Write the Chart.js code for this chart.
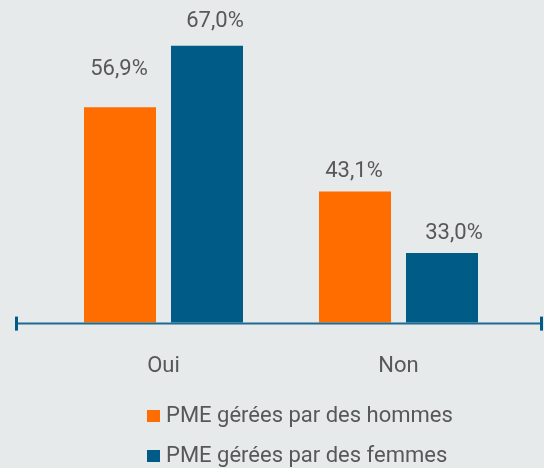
<!DOCTYPE html>
<html>
<head>
<meta charset="utf-8">
<script src="https://cdn.jsdelivr.net/npm/chart.js@4/dist/chart.umd.min.js"></script>
<style>
  html, body { margin: 0; padding: 0; background: #e6eaeb; }
  #wrap { position: relative; width: 544px; height: 468px; }
  #chart { position: absolute; left: 0; top: 0; }
  .leg { position: absolute; left: 0; width: 544px; height: 26px; line-height: 26px;
         font: 22px Roboto, 'Noto Sans', sans-serif; color: #585858; white-space: nowrap; }
  .leg .sw { position: absolute; left: 147px; top: 8px; width: 13px; height: 12px; }
  .leg .tx { position: absolute; left: 166px; top: 0; }
</style>
</head>
<body>
<div id="wrap">
  <canvas id="chart" width="544" height="411"></canvas>
  <div id="legend"></div>
</div>
<script>
// Data
var categories = ["Oui", "Non"];
var hommes = [56.9, 43.1];
var femmes = [67.0, 33.0];
var seriesNames = ["PME gérées par des hommes", "PME gérées par des femmes"];
var seriesColors = ["#ff6d00", "#005b86"];

var textColor = "#585858";
var fontFamily = "Roboto, 'Noto Sans', sans-serif";

// horizontal axis line with end ticks, wider than the plot area
var axisLine = {
    id: "axisLine",
    afterDatasetsDraw: function (chart) {
        var ctx = chart.ctx, a = chart.chartArea;
        var y = a.bottom + 1;
        ctx.save();
        ctx.strokeStyle = "#1d6a93";
        ctx.lineWidth = 2;
        ctx.beginPath();
        ctx.moveTo(a.left - 30, y);
        ctx.lineTo(a.right + 26, y);
        ctx.stroke();
        ctx.fillStyle = "#005b86";
        ctx.fillRect(a.left - 31, y - 7, 3, 14);
        ctx.fillRect(a.right + 24, y - 7, 3, 14);
        ctx.restore();
    }
};

// value labels above bars
var labelNudge = [[[-1, -38], [8, -24]], [[-1, -20], [12, -20]]];
var valueLabels = {
    id: "valueLabels",
    afterDatasetsDraw: function (chart) {
        var ctx = chart.ctx;
        ctx.save();
        ctx.font = "22px " + fontFamily;
        ctx.fillStyle = textColor;
        ctx.textAlign = "center";
        ctx.textBaseline = "middle";
        chart.data.datasets.forEach(function (ds, i) {
            chart.getDatasetMeta(i).data.forEach(function (bar, j) {
                var n = labelNudge[j][i];
                var txt = ds.data[j].toFixed(1).replace(".", ",") + "%";
                ctx.fillText(txt, bar.x + n[0], bar.y + n[1]);
            });
        });
        ctx.restore();
    }
};

var chart = new Chart(document.getElementById("chart"), {
    type: "bar",
    data: {
        labels: categories,
        datasets: [{
            label: seriesNames[0],
            data: hommes,
            backgroundColor: seriesColors[0]
        }, {
            label: seriesNames[1],
            data: femmes,
            backgroundColor: seriesColors[1]
        }]
    },
    options: {
        responsive: false,
        animation: false,
        barPercentage: 0.8276,
        categoryPercentage: 0.7404,
        layout: { padding: { left: 46, right: 28, top: 0, bottom: 0 } },
        scales: {
            x: {
                grid: { display: false, drawTicks: false },
                border: { display: false },
                ticks: { color: textColor, font: { family: fontFamily, size: 22 }, padding: 31 }
            },
            y: {
                display: false,
                min: 21.6,
                max: 74.5
            }
        },
        plugins: {
            legend: { display: false },
            tooltip: { enabled: false }
        }
    },
    plugins: [axisLine, valueLabels]
});

// legend below the chart, one row per series
var legend = document.getElementById("legend");
chart.data.datasets.forEach(function (ds, i) {
    var row = document.createElement("div");
    row.className = "leg";
    row.style.top = (402 + i * 39.5) + "px";
    row.innerHTML = '<span class="sw" style="background:' + ds.backgroundColor + '"></span>' +
        '<span class="tx">' + ds.label + '</span>';
    legend.appendChild(row);
});
</script>
</body>
</html>
